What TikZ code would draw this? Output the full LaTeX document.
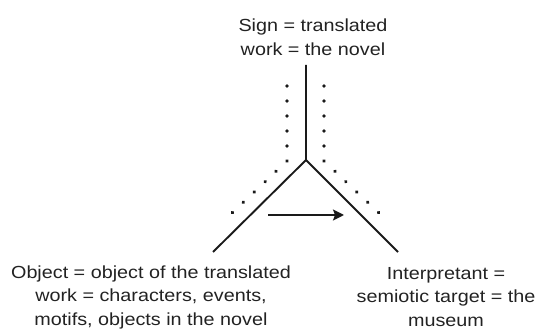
\documentclass[tikz,border=0pt]{standalone}
\usepackage{fontspec}
\setmainfont{Liberation Sans}
\usetikzlibrary{arrows.meta}
\definecolor{ink}{HTML}{1A1A1A}
\definecolor{txt}{HTML}{222222}
\tikzset{
  lbl/.style={align=center, text=txt, inner sep=0pt, xscale=1.13, transform shape,
    font=\fontsize{17.5}{23.5}\selectfont},
  edge/.style={draw=ink, line width=1.9pt},
  dots/.style={draw=ink, line width=3.8pt, line cap=round, dash pattern=on 0.01pt off 15pt},
  arr/.style={draw=ink, line width=1.9pt, -{Stealth[length=11pt,width=11pt,inset=2pt]}}
}
\begin{document}
\begin{tikzpicture}[x=1pt,y=-1pt]
\useasboundingbox (0,0) rectangle (540,336);
\node[lbl] (sign) at (313,37) {Sign = translated\\work = the novel};
\node[lbl] (obj) at (151,297) {Object = object of the translated\\work = characters, events,\\motifs, objects in the novel};
\node[lbl] (int) at (446,297) {Interpretant =\\semiotic target = the\\museum};
\coordinate (T) at (306,65);
\coordinate (J) at (306,160);
\coordinate (L) at (213,252);
\coordinate (R) at (398,252);
\draw[edge] (T) -- (J) -- (L);
\draw[edge] (J) -- (R);
\coordinate (d1) at (287,86);
\coordinate (d2) at (287,161);
\coordinate (d3) at (232,213);
\coordinate (e1) at (324,86);
\coordinate (e2) at (324,161);
\coordinate (e3) at (379,213);
\draw[dots] (d1) -- (d2) -- (d3);
\draw[dots] (e1) -- (e2) -- (e3);
\coordinate (a1) at (268,215);
\coordinate (a2) at (344,215);
\draw[arr] (a1) -- (a2);
\end{tikzpicture}
\end{document}
